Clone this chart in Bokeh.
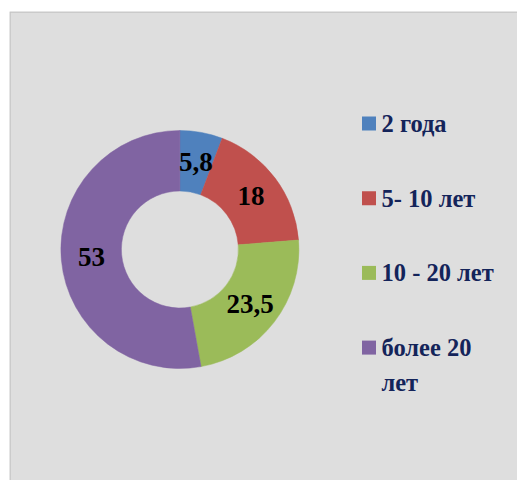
import numpy as np
from bokeh.plotting import figure
from bokeh.models import Range1d, BoxAnnotation, ColumnDataSource
from bokeh.core.properties import value
from bokeh.embed import file_html
from bokeh.resources import INLINE

# ---- data ----
categories = ["2 года", "5- 10 лет", "10 - 20 лет", "более 20\nлет"]
values = [5.8, 18, 23.5, 53]
value_labels = ["5,8", "18", "23,5", "53"]
colors = ["#4f81bd", "#c0504d", "#9bbb59", "#8064a2"]

W, H = 517, 480
SERIF = value("Liberation Serif")
p = figure(width=W, height=H, output_backend="svg", toolbar_location=None,
           x_range=Range1d(0, W), y_range=Range1d(0, H), min_border=0,
           background_fill_color="white", border_fill_color="white")
p.axis.visible = False
p.grid.visible = False
p.outline_line_color = None

# chart area box
p.add_layout(BoxAnnotation(left=9.5, right=W + 20, bottom=-20, top=H - 11.5,
                           fill_color="#dedede", fill_alpha=1.0,
                           line_color="#8a8a8a", line_width=1.5,
                           level="underlay"))

cx, cy = 179.4, 231.0
r_out, r_in = 119.0, 58.5

vals = np.array(values, dtype=float)
frac = vals / vals.sum()
cum = np.cumsum(frac)
prev = np.concatenate([[0.0], cum[:-1]])
start = np.pi / 2 - prev * 2 * np.pi
end = np.pi / 2 - cum * 2 * np.pi
mid = (start + end) / 2
r_mid = (r_in + r_out) / 2

src = ColumnDataSource(dict(
    start=start, end=end, color=colors,
    lx=cx + r_mid * np.cos(mid), ly=cy + r_mid * np.sin(mid),
    lab=value_labels,
))

p.annular_wedge(x=cx, y=cy, inner_radius=r_in, outer_radius=r_out,
                start_angle="start", end_angle="end", direction="clock",
                fill_color="color", line_color="color", line_width=0.5,
                source=src)

p.text(x="lx", y="ly", text="lab", source=src,
       text_font=SERIF, text_font_style="bold",
       text_font_size="27px", text_color="black",
       text_align="center", text_baseline="middle")

# ---- legend ----
n = len(categories)
leg_y0 = 480 - 123.0
leg_dy = 74.7
ly = np.array([leg_y0 - i * leg_dy for i in range(n)])
leg = ColumnDataSource(dict(x=[368.5] * n, y=ly, color=colors,
                            tx=[381.0] * n, ty=ly + 13.5, text=categories))
p.scatter(x="x", y="y", marker="square", size=14, fill_color="color",
          line_color=None, source=leg)
p.text(x="tx", y="ty", text="text", source=leg,
       text_font=SERIF, text_font_style="bold",
       text_font_size="24.5px", text_color="#14245a",
       text_align="left", text_baseline="top", text_line_height=1.3)

open("out.html", "w").write(file_html(p, INLINE))
